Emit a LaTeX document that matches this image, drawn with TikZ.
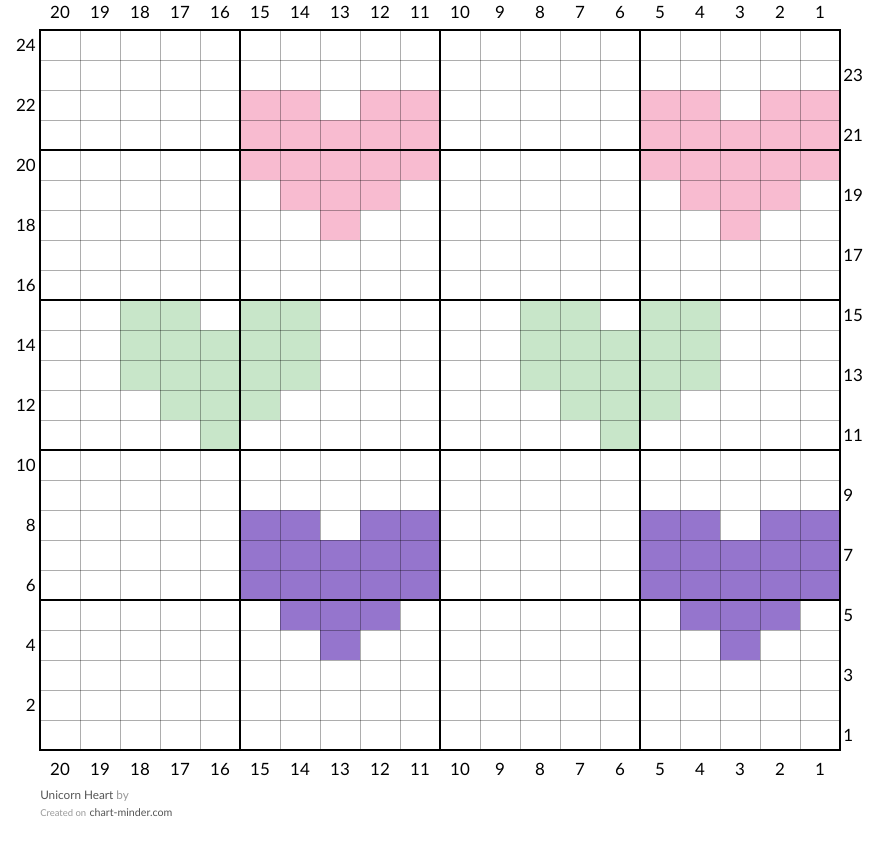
\documentclass[tikz,border=0pt]{standalone}
\usepackage{fontspec}
\setmainfont{Lato}
\definecolor{pinkc}{HTML}{F8BBD0}
\definecolor{greenc}{HTML}{C8E6C9}
\definecolor{purplec}{HTML}{9575CD}
\definecolor{darkt}{HTML}{555555}
\definecolor{lightt}{HTML}{999999}
\begin{document}
\begin{tikzpicture}[x=0.75pt,y=-0.75pt,
  lab/.style={font=\fontsize{12.7}{14}\selectfont, text=black, inner sep=0pt},
  thin grid/.style={draw=black, draw opacity=0.32, line width=0.75pt},
  thick grid/.style={draw=black, line width=1.5pt, line cap=rect},
  foot/.style={inner sep=0pt, anchor=base west}]
\useasboundingbox (0,0) rectangle (880,843);
\fill[white] (0,0) rectangle (880,843);
% heart shape macro: top-left pixel, colour
\newcommand{\heartshape}[3]{%
  \begin{scope}[shift={(#1,#2)}]
    \fill[#3] (0,0) rectangle (80,30);
    \fill[#3] (120,0) rectangle (200,30);
    \fill[#3] (0,30) rectangle (200,90);
    \fill[#3] (40,90) rectangle (160,120);
    \fill[#3] (80,120) rectangle (120,150);
  \end{scope}}
\heartshape{240}{90}{pinkc}
\heartshape{640}{90}{pinkc}
\heartshape{120}{300}{greenc}
\heartshape{520}{300}{greenc}
\heartshape{240}{510}{purplec}
\heartshape{640}{510}{purplec}
% thin grid
\foreach \i in {0,...,20} \draw[thin grid] ({40+40*\i},30) -- ({40+40*\i},750);
\foreach \j in {0,...,24} \draw[thin grid] (40,{30+30*\j}) -- (840,{30+30*\j});
% thick grid
\foreach \x in {40,240,440,640,840} \draw[thick grid] (\x,30) -- (\x,750);
\foreach \y in {30,150,300,450,600,750} \draw[thick grid] (40,\y) -- (840,\y);
% column labels
\foreach \c in {1,...,20} {
  \node[lab] (top\c) at ({40+(20-\c)*40+20},12) {\c};
  \node[lab] (bot\c) at ({40+(20-\c)*40+20},769) {\c};
}
% row labels
\foreach \r in {2,4,...,24} \node[lab, anchor=east] (left\r) at (36,{30+(24-\r)*30+15}) {\r};
\foreach \r in {1,3,...,23} \node[lab, anchor=west] (right\r) at (843,{30+(24-\r)*30+15}) {\r};
% footer
\node[foot, font=\fontsize{8.8}{10}\selectfont] (title) at (40,799) {\textcolor{darkt}{Unicorn Heart} \textcolor{lightt}{by}};
\node[foot] (credit) at (40,816) {\textcolor{lightt}{\fontsize{7.1}{8}\selectfont Created on} \textcolor{darkt}{\fontsize{8}{9}\selectfont chart-minder.com}};
\end{tikzpicture}
\end{document}
